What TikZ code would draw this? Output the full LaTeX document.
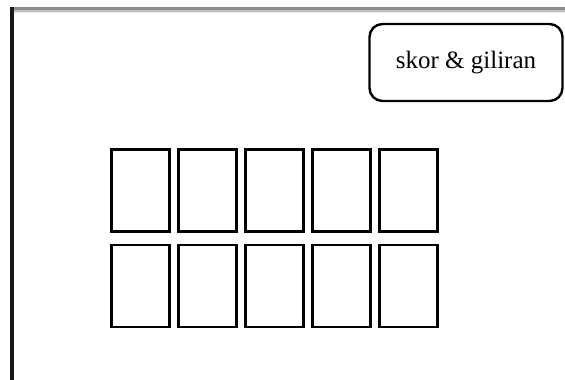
\documentclass[tikz,border=0pt]{standalone}
\usepackage{fontspec}
\setmainfont{Liberation Serif}
\begin{document}
\begin{tikzpicture}[x=1pt,y=-1pt,
  card/.style={draw=black,line width=2.6pt,minimum width=58pt,minimum height=82pt,inner sep=0pt,anchor=north west},
  infobox/.style={draw=black,line width=2.4pt,rounded corners=13pt,minimum width=193pt,minimum height=77pt,font=\fontsize{25}{28}\selectfont}]
\useasboundingbox (0,0) rectangle (565,380);
\fill[white] (0,0) rectangle (565,380);
% top frame line (gray, soft)
\fill[black!45] (10,7) rectangle (565,9.5);
\fill[black!25] (10,9.5) rectangle (565,11.5);
\fill[black!10] (10,11.5) rectangle (565,13);
% left frame line
\fill[black!90] (10,7) rectangle (13.5,380);
% info box
\node[infobox] (skor) at (466,62.5) {skor \& giliran};
% cards
\foreach \i in {0,...,4} {
  \node[card] (a\i) at ({110+67*\i},148) {};
  \node[card] (b\i) at ({110+67*\i},243.5) {};
}
\end{tikzpicture}
\end{document}
